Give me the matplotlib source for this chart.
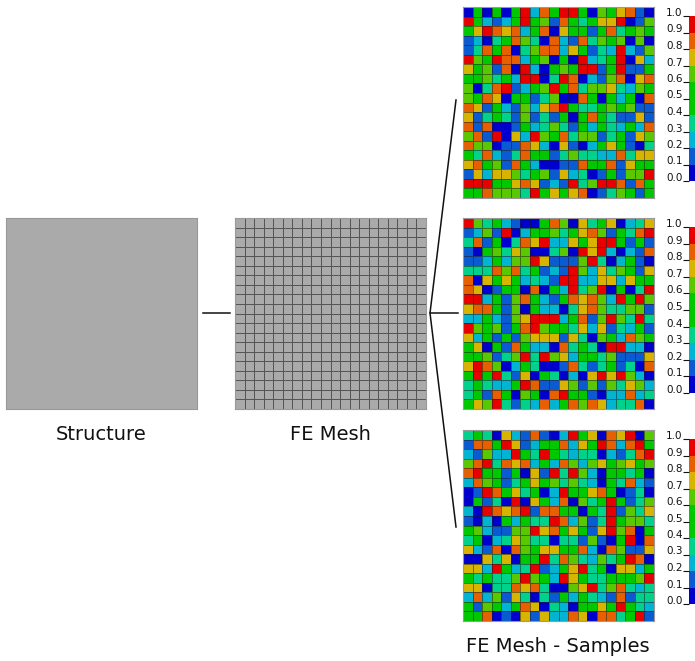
import matplotlib

matplotlib.use("Agg")
import matplotlib.pyplot as plt
import numpy as np
from matplotlib.colors import BoundaryNorm, ListedColormap
from matplotlib.cm import ScalarMappable

################## Data #########################################

# Each digit is a colour class of one mesh cell (0 = dark blue ... 8 = red),
# rows from top to bottom, 20 x 20 elements per sample
sample_1 = [
    "04040482748840546710",
    "84212484517434668015",
    "46876724706441473454",
    "12034753072173545050",
    "13747035772641328215",
    "85487724504082348062",
    "64517082045488148114",
    "44534288038702157067",
    "50378124584735563254",
    "54760441350074042407",
    "76142152678433454511",
    "61343151314047431161",
    "71700142353142432427",
    "57180628547355134165",
    "75501176206102464103",
    "43721374413533227366",
    "67451742001174471644",
    "16266534516230141558",
    "88844676121835887174",
    "44755538464670135414",
]
sample_2 = [
    "85342100475063460236",
    "12518024453467514378",
    "37140376822646884141",
    "10453650035086820217",
    "11242558611158302410",
    "33375734121852635416",
    "70646423218822662644",
    "76014407042835804038",
    "88241574214767528485",
    "67741504220367533551",
    "22421568882471585383",
    "85451478544362613241",
    "62414156661630542754",
    "46041742207343088220",
    "44513583856244351116",
    "68750243001731341307",
    "48483160430206868520",
    "34322487116515153652",
    "34174054078441022723",
    "46583132724757623370",
]
sample_3 = [
    "34306217102846076805",
    "17748612447264872784",
    "21522843843233021378",
    "57837672427525645645",
    "78441406183852044340",
    "27541346453532043721",
    "01874634028446740130",
    "04130806427053484135",
    "20876781774404381536",
    "10204243387251384553",
    "45211558674641685704",
    "34023653303315104807",
    "62170754664472075116",
    "00636044837532534870",
    "66284238124683406624",
    "43433585428643344458",
    "66033767300568357323",
    "27251630314243217133",
    "41542476032044648432",
    "44701061622760773481",
]

# Contour levels of the legend and the value that stands for each class
levels = [0.0, 0.1, 0.2, 0.3, 0.4, 0.6, 0.7, 0.8, 0.9, 1.0]
class_values = [0.05, 0.15, 0.25, 0.35, 0.5, 0.65, 0.75, 0.85, 0.95]
tick_values = [0.0, 0.1, 0.2, 0.3, 0.4, 0.5, 0.6, 0.7, 0.8, 0.9, 1.0]

# Labels
label_structure = "Structure"
label_mesh = "FE Mesh"
label_samples = "FE Mesh - Samples"

################## Style ###################

W, H = 695, 661
mesh_n = 20

grey = "#aaaaaa"
grid_line = "#555555"
txt = "#111111"

spectrum = [
    "#0000cd",
    "#0a5ad2",
    "#00b4d2",
    "#00d28c",
    "#00c800",
    "#5ac800",
    "#d7b400",
    "#e65f00",
    "#e60000",
]
cmap = ListedColormap(spectrum)
norm = BoundaryNorm(levels, cmap.N)


def px_axes(fig, x, y, w, h):
    # Axes placed with pixel coordinates measured from the top left
    return fig.add_axes([x / W, 1 - (y + h) / H, w / W, h / H])


def to_values(rows):
    return np.array([[class_values[int(c)] for c in r] for r in rows])


fig = plt.figure(figsize=(W / 100, H / 100), dpi=100)

####################### Structure #######################

ax = px_axes(fig, 6, 218, 191, 191)
ax.set_facecolor(grey)
ax.set_xticks([])
ax.set_yticks([])
for spine in ax.spines.values():
    spine.set_color("#999999")
    spine.set_linewidth(0.8)

####################### FE mesh #######################

ax = px_axes(fig, 235, 218, 191, 191)
ax.pcolormesh(
    np.zeros((mesh_n, mesh_n)),
    cmap=ListedColormap([grey]),
    edgecolors=grid_line,
    linewidth=0.45,
)
ax.set_xlim(0, mesh_n)
ax.set_ylim(mesh_n, 0)
ax.set_xticks([])
ax.set_yticks([])
for spine in ax.spines.values():
    spine.set_color("#999999")
    spine.set_linewidth(0.8)

####################### Samples #######################

sample_tops = [7, 218, 430]
bar_spans = [(16, 181), (227, 393), (439, 604)]

for rows, top, (b0, b1) in zip([sample_1, sample_2, sample_3], sample_tops, bar_spans):
    ax = px_axes(fig, 463, top, 191, 191)
    ax.pcolormesh(
        to_values(rows),
        cmap=cmap,
        norm=norm,
        edgecolors=(0.1, 0.1, 0.1, 0.5),
        linewidth=0.55,
    )
    ax.set_xlim(0, mesh_n)
    ax.set_ylim(mesh_n, 0)
    ax.set_xticks([])
    ax.set_yticks([])
    for spine in ax.spines.values():
        spine.set_color("#999999")
        spine.set_linewidth(0.8)

    # Legend bar
    cax = px_axes(fig, 689, b0, 8, b1 - b0)
    cbar = fig.colorbar(
        ScalarMappable(norm=norm, cmap=cmap), cax=cax, spacing="proportional"
    )
    cbar.outline.set_visible(False)
    cax.yaxis.set_ticks_position("left")
    cax.set_yticks(
        tick_values,
        [f"{v:.1f}" for v in tick_values],
        va="baseline",
        fontsize=7.5,
        color=txt,
    )
    cax.tick_params(axis="y", length=4, width=0.8, pad=0.5, color=txt)

####################### Connectors and labels #######################

over = fig.add_axes([0, 0, 1, 1], zorder=-1)
over.set_xlim(0, W)
over.set_ylim(H, 0)
over.axis("off")

over.plot([203, 230], [313, 313], color=txt, linewidth=1.1)
over.plot([458, 430, 456], [313, 313, 100], color=txt, linewidth=1.1)
over.plot([430, 456], [313, 527], color=txt, linewidth=1.1)

over.text(101, 435, label_structure, fontsize=14, ha="center", va="center", color=txt)
over.text(330, 435, label_mesh, fontsize=14, ha="center", va="center", color=txt)
over.text(558, 646, label_samples, fontsize=14, ha="center", va="center", color=txt)

fig.savefig("out.png", dpi=100)
